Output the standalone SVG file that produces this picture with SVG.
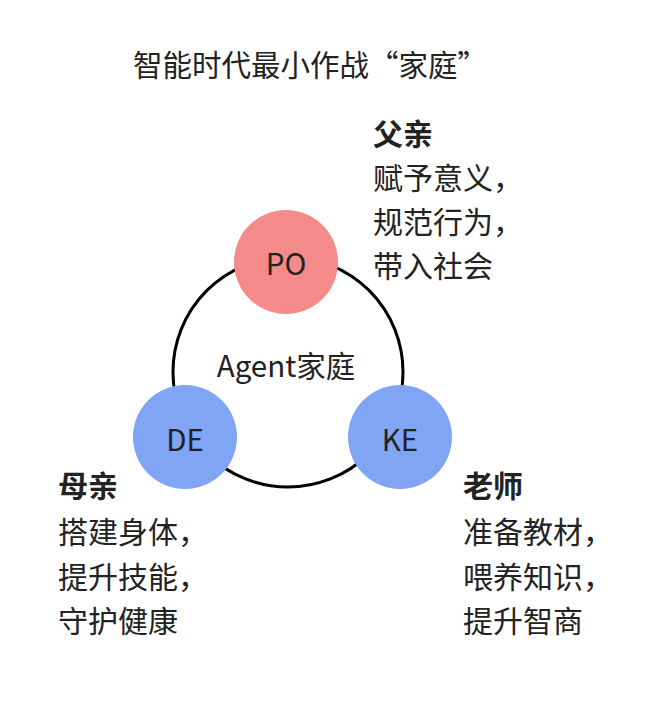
<svg xmlns="http://www.w3.org/2000/svg" width="646" height="704" viewBox="0 0 646 704">
<style>
text{font-family:"Noto Sans CJK SC","Noto Sans",sans-serif;fill:#222;font-size:30px}
.t{font-size:29.5px}
.n{font-size:29.5px}
.b{font-weight:bold}
.c{text-anchor:middle}
.po{fill:#F48A89}
.bl{fill:#80A5F5}
</style>
<rect width="646" height="704" fill="#fff"/>
<text class="t" x="133" y="76">智能时代最小作战“家庭”</text>
<g id="connectors">
<circle cx="288" cy="372" r="115" fill="none" stroke="#000" stroke-width="3"/>
</g>
<text class="c n" x="286" y="377">Agent家庭</text>
<g id="PO">
<circle class="po" cx="286" cy="262" r="52"/>
<text class="c n" x="286" y="275">PO</text>
</g>
<g id="DE">
<circle class="bl" cx="185" cy="437" r="52"/>
<text class="c n" x="185" y="451">DE</text>
</g>
<g id="KE">
<circle class="bl" cx="400" cy="437" r="52"/>
<text class="c n" x="400" y="451">KE</text>
</g>
<g id="father">
<text class="b" x="373" y="145">父亲</text>
<text x="373" y="189">赋予意义，</text>
<text x="373" y="233">规范行为，</text>
<text x="373" y="277">带入社会</text>
</g>
<g id="mother">
<text class="b" x="58" y="497">母亲</text>
<text x="58" y="543">搭建身体，</text>
<text x="58" y="588">提升技能，</text>
<text x="58" y="632">守护健康</text>
</g>
<g id="teacher">
<text class="b" x="463" y="497">老师</text>
<text x="463" y="543">准备教材，</text>
<text x="463" y="588">喂养知识，</text>
<text x="463" y="632">提升智商</text>
</g>
</svg>
